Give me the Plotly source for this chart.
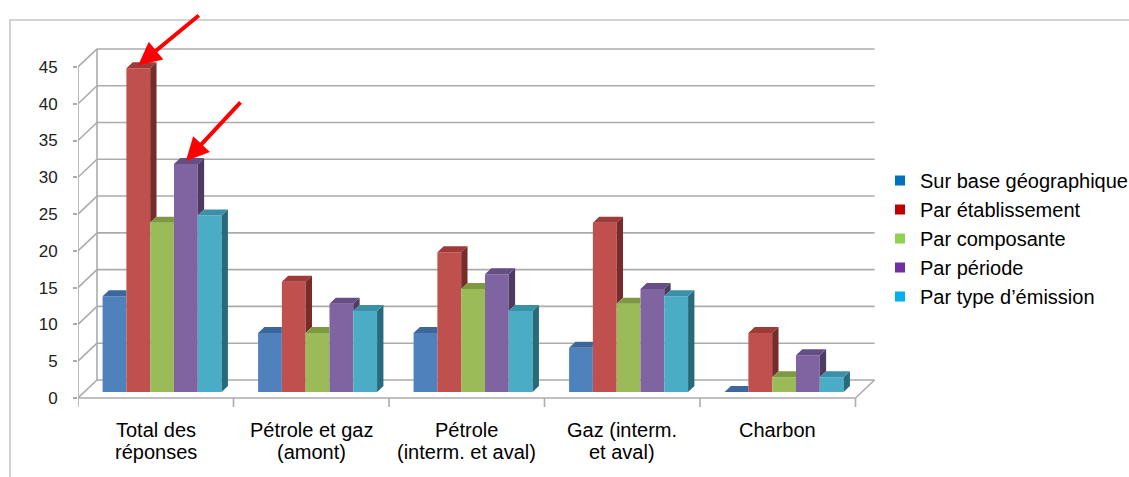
import plotly.graph_objects as go

# ---- data -------------------------------------------------------------
categories = [
    ["Total des", "réponses"],
    ["Pétrole et gaz", "(amont)"],
    ["Pétrole", "(interm. et aval)"],
    ["Gaz (interm.", "et aval)"],
    ["Charbon"],
]
series_names = [
    "Sur base géographique",
    "Par établissement",
    "Par composante",
    "Par période",
    "Par type d’émission",
]
sur_base_geographique = [13, 8, 8, 6, 0]
par_etablissement = [44, 15, 19, 23, 8]
par_composante = [23, 8, 14, 12, 2]
par_periode = [31, 12, 16, 14, 5]
par_type_emission = [24, 11, 11, 13, 2]
y_ticks = [0, 5, 10, 15, 20, 25, 30, 35, 40, 45]

series_values = [
    sur_base_geographique,
    par_etablissement,
    par_composante,
    par_periode,
    par_type_emission,
]

# ---- styling ----------------------------------------------------------
front_colors = ["#4F81BD", "#C0504D", "#9BBB59", "#8064A2", "#4BACC6"]
top_colors = ["#3D679C", "#9E3B38", "#7D9A42", "#654D86", "#3A90A8"]
side_colors = ["#2C4D75", "#772C2A", "#5F7530", "#4D3B62", "#276A7C"]
legend_colors = ["#0070C0", "#C00000", "#92D050", "#7030A0", "#00B0F0"]
grid_color = "#ABABAB"
font_family = "Liberation Sans, Arial, sans-serif"

W, H = 1129, 477
M_L, M_R, M_T, M_B = 78, 253, 41, 68
PX_X = 155.5          # pixels per category
PX_Y = 7.356          # pixels per unit on the value axis
plot_w = W - M_L - M_R
plot_h = H - M_T - M_B
x_min = -0.5
x_max = x_min + plot_w / PX_X
y_min = -1.5
y_max = y_min + plot_h / PX_Y

# depth of the 3-D box (front plane -> back wall), in axis units
DX = 19 / PX_X
DY = 18 / PX_Y
# bars sit in the middle third of the depth
FX, FY = DX / 3, DY / 3
BX, BY = DX / 3, DY / 3
BW = 23.8 / PX_X      # bar width

n_cat = len(categories)
n_ser = len(series_values)
y_top = y_ticks[-1]

fig = go.Figure()


def bar_left(i, k):
    return i + (k - (n_ser - 1) / 2) * BW - BW / 2 + FX


# front faces
for k, vals in enumerate(series_values):
    fig.add_trace(go.Bar(
        x=[bar_left(i, k) + BW / 2 for i in range(n_cat)],
        y=vals,
        base=FY,
        width=BW,
        marker=dict(color=front_colors[k], line=dict(width=0)),
        showlegend=False,
        hoverinfo="skip",
    ))

# side and top faces (only the parts not hidden by the neighbouring bar)
for k, vals in enumerate(series_values):
    sx, sy, tx, ty = [], [], [], []
    for i in range(n_cat):
        v = vals[i]
        nxt = series_values[k + 1][i] if k + 1 < n_ser else None
        xl = bar_left(i, k)
        xr = xl + BW
        top = FY + v
        if nxt is None or nxt < v:
            bottom = FY + (nxt if nxt is not None else 0)
            sx += [xr, xr, xr + BX, xr + BX, xr, None]
            sy += [bottom, top, top + BY, bottom + BY, bottom, None]
        if nxt is not None and nxt > v:
            tx += [xl, xr, xr, xl + BX, xl, None]
            ty += [top, top, top + BY, top + BY, top, None]
        else:
            tx += [xl, xr, xr + BX, xl + BX, xl, None]
            ty += [top, top, top + BY, top + BY, top, None]
    fig.add_trace(go.Scatter(x=sx, y=sy, mode="lines", fill="toself",
                             fillcolor=side_colors[k], line=dict(width=0),
                             showlegend=False, hoverinfo="skip"))
    fig.add_trace(go.Scatter(x=tx, y=ty, mode="lines", fill="toself",
                             fillcolor=top_colors[k], line=dict(width=0),
                             showlegend=False, hoverinfo="skip"))

# legend entries
for name, col in zip(series_names, legend_colors):
    fig.add_trace(go.Scatter(
        x=[None], y=[None], mode="markers", name=name,
        marker=dict(symbol="square", size=10, color=col),
    ))

# ---- box: back wall gridlines, floor, axis lines -----------------------
shapes = []
line_style = dict(color=grid_color, width=1.6)
x_right = x_min + n_cat
for t in y_ticks:
    shapes.append(dict(type="line", xref="x", yref="y", layer="below",
                       x0=x_min + DX, y0=t + DY, x1=x_right + DX, y1=t + DY,
                       line=line_style))
    shapes.append(dict(type="line", xref="x", yref="y", layer="below",
                       x0=x_min, y0=t, x1=x_min + DX, y1=t + DY,
                       line=line_style))
# back vertical edge and front value axis
shapes.append(dict(type="line", xref="x", yref="y", layer="below",
                   x0=x_min + DX, y0=DY, x1=x_min + DX, y1=y_top + DY,
                   line=line_style))
shapes.append(dict(type="line", xref="x", yref="y", layer="below",
                   x0=x_min, y0=0, x1=x_min, y1=y_top, line=line_style))
# floor front and right edges
shapes.append(dict(type="line", xref="x", yref="y", layer="below",
                   x0=x_min, y0=0, x1=x_right, y1=0, line=line_style))
shapes.append(dict(type="line", xref="x", yref="y", layer="below",
                   x0=x_right, y0=0, x1=x_right + DX, y1=DY, line=line_style))
# category separators below the floor
for j in range(n_cat + 1):
    shapes.append(dict(type="line", xref="x", yref="y", layer="below",
                       x0=x_min + j, y0=0, x1=x_min + j, y1=-9 / PX_Y,
                       line=line_style))
# outer chart frame
shapes.append(dict(type="rect", xref="paper", yref="paper", layer="below",
                   x0=(10 - M_L) / plot_w, y0=-0.4,
                   x1=1.6, y1=1 + (M_T - 20) / plot_h,
                   line=dict(color="#C4C4C4", width=1.5)))

# ---- category labels ---------------------------------------------------
annotations = []
for i, lines in enumerate(categories):
    for j, txt in enumerate(lines):
        annotations.append(dict(
            x=i, y=0, xref="x", yref="y", text=txt, showarrow=False,
            xanchor="center", yanchor="middle", yshift=-32 - 22.5 * j,
            font=dict(family=font_family, size=20, color="#000000"),
        ))

# ---- highlight arrows --------------------------------------------------
for k, ax, ay in [(1, 62, -51), (3, 56, -60)]:
    v = series_values[k][0]
    annotations.append(dict(
        x=bar_left(0, k) + BW / 2, y=FY + v + BY / 2, xref="x", yref="y",
        ax=ax, ay=ay, showarrow=True, arrowhead=2, arrowsize=1.15,
        arrowwidth=4, arrowcolor="#FF0000", text="",
    ))

fig.update_layout(
    width=W, height=H,
    margin=dict(l=M_L, r=M_R, t=M_T, b=M_B, pad=0, autoexpand=False),
    paper_bgcolor="white", plot_bgcolor="white",
    barmode="overlay",
    shapes=shapes,
    annotations=annotations,
    xaxis=dict(range=[x_min, x_max], showgrid=False, zeroline=False,
               showline=False, showticklabels=False, ticks=""),
    yaxis=dict(range=[y_min, y_max], tickvals=y_ticks, showgrid=False,
               zeroline=False, showline=False, ticks="outside", ticklen=4,
               tickcolor=grid_color, tickwidth=1.5, ticklabelstandoff=12,
               tickfont=dict(family=font_family, size=17, color="#222222")),
    legend=dict(x=(880 - M_L) / plot_w, y=1 - (161 - M_T) / plot_h,
                xanchor="left", yanchor="top", bgcolor="rgba(0,0,0,0)",
                font=dict(family=font_family, size=20, color="#000000"),
                itemclick=False),
    showlegend=True,
)

fig.write_html("out.html")
